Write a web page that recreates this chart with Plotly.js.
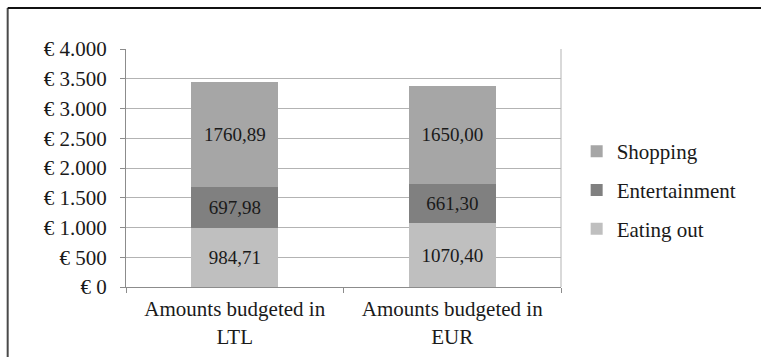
<!DOCTYPE html>
<html>
<head>
<meta charset="utf-8">
<script src="https://cdn.plot.ly/plotly-3.0.1.min.js"></script>
<style>html,body{margin:0;padding:0;background:#fff;}#chart{width:761px;height:357px;}</style>
</head>
<body>
<div id="chart"></div>
<script>
var categories = ["Amounts budgeted in<br>LTL", "Amounts budgeted in<br>EUR"];
var eatingOut = [984.71, 1070.40];
var entertainment = [697.98, 661.30];
var shopping = [1760.89, 1650.00];
var seriesNames = ["Eating out", "Entertainment", "Shopping"];
var seriesColors = ["#bfbfbf", "#808080", "#a6a6a6"];
var yTickVals = [0, 500, 1000, 1500, 2000, 2500, 3000, 3500, 4000];

function fmt(v) { return v.toFixed(2).replace('.', ','); }
function fmtTick(v) {
  return "€ " + String(Math.round(v)).replace(/\B(?=(\d{3})+(?!\d))/g, ".");
}

var FONT = "'Liberation Serif', 'Times New Roman', serif";
var FS = 21;
var seriesValues = [eatingOut, entertainment, shopping];
var ranks = [3, 2, 1];
var traces = seriesValues.map(function (vals, i) {
  return {
    type: "bar",
    name: seriesNames[i],
    x: categories,
    y: vals,
    text: vals.map(fmt),
    textposition: "inside",
    insidetextanchor: "middle",
    textangle: 0,
    constraintext: "none",
    textfont: {family: FONT, size: 19, color: "#1a1a1a"},
    marker: {color: seriesColors[i], line: {width: 0}},
    legendgroup: "g" + i,
    legendrank: ranks[i],
    hoverinfo: "skip"
  };
});

var layout = {
  width: 761, height: 357,
  margin: {l: 126, r: 200, t: 49, b: 70},
  paper_bgcolor: "#ffffff", plot_bgcolor: "#ffffff",
  barmode: "stack",
  bargap: 0.6,
  font: {family: FONT, size: FS, color: "#1a1a1a"},
  showlegend: true,
  legend: {
    x: 1.036, y: 0.655, xanchor: "left", yanchor: "top",
    traceorder: "grouped",
    tracegroupgap: 8.5,
    font: {family: FONT, size: FS, color: "#1a1a1a"},
    bgcolor: "rgba(0,0,0,0)", itemwidth: 30
  },
  xaxis: {
    type: "category",
    showline: true, linecolor: "#8c8c8c", linewidth: 1,
    ticks: "outside", ticklen: 5, tickcolor: "#8c8c8c",
    tickson: "boundaries",
    showgrid: false,
    tickfont: {family: FONT, size: FS, color: "#1a1a1a"},
    ticklabelstandoff: 3,
    fixedrange: true
  },
  yaxis: {
    range: [0, 4000],
    tickmode: "array",
    tickvals: yTickVals,
    ticktext: yTickVals.map(fmtTick),
    showline: true, linecolor: "#8c8c8c", linewidth: 1,
    ticks: "outside", ticklen: 5, tickcolor: "#8c8c8c",
    showgrid: true, gridcolor: "#b3b3b3", gridwidth: 1,
    zeroline: false,
    tickfont: {family: FONT, size: FS, color: "#1a1a1a"},
    ticklabelstandoff: 9,
    fixedrange: true
  },
  shapes: [
    {type: "line", xref: "paper", yref: "paper", x0: 1, x1: 1, y0: 0, y1: 1,
     line: {color: "#b3b3b3", width: 1}},
    {type: "line", xref: "paper", yref: "paper", x0: -0.272, x1: -0.272, y0: -0.4, y1: 1.172,
     line: {color: "#4a4a4a", width: 2}},
    {type: "line", xref: "paper", yref: "paper", x0: -0.272, x1: 1.5, y0: 1.172, y1: 1.172,
     line: {color: "#111111", width: 2}}
  ]
};

Plotly.newPlot("chart", traces, layout, {displayModeBar: false, staticPlot: true});
</script>
</body>
</html>
